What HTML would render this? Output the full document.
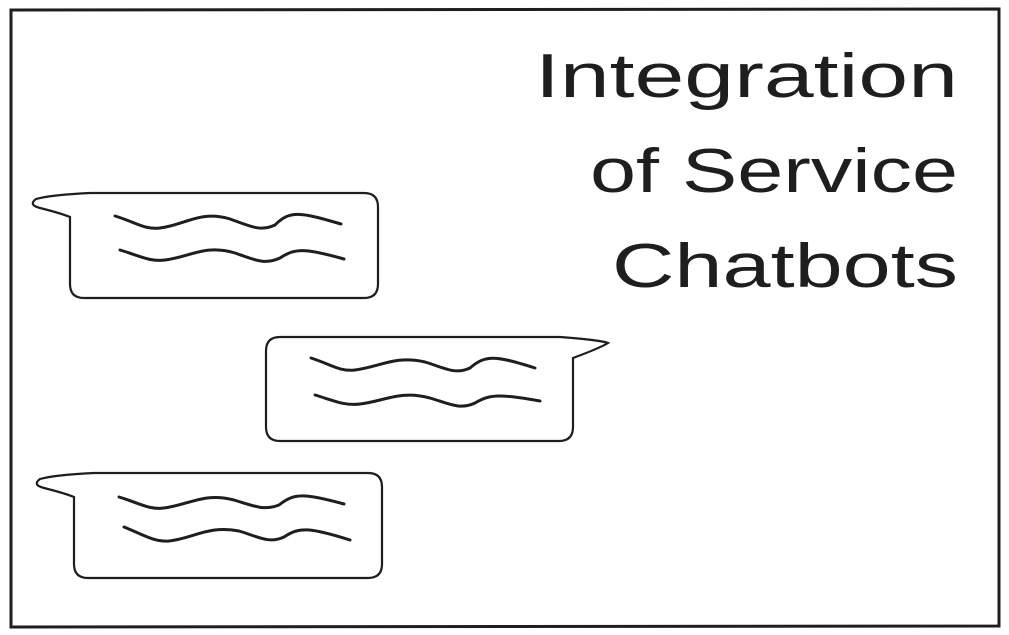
<!DOCTYPE html>
<html><head><style>
html,body{margin:0;padding:0;background:#fff;width:1009px;height:635px;overflow:hidden}
</style></head><body>
<svg width="1009" height="635" viewBox="0 0 1009 635" xmlns="http://www.w3.org/2000/svg">
<rect x="0" y="0" width="1009" height="635" fill="#fff"/>
<path d="M11 10 L999 9 L999 626 L11 627 Z" fill="none" stroke="#1e1e1e" stroke-width="3"/>
<g font-family="'Liberation Sans', sans-serif" font-size="62" fill="#1e1e1e">
<text x="535" y="97" textLength="423" lengthAdjust="spacingAndGlyphs">Integration</text>
<text x="590" y="192" textLength="368" lengthAdjust="spacingAndGlyphs">of Service</text>
<text x="612" y="287" textLength="346" lengthAdjust="spacingAndGlyphs">Chatbots</text>
</g>
<g fill="none" stroke="#1e1e1e" stroke-width="2.2" stroke-linecap="round">
<path d="M70 217 L70 284 Q70 298 84 298 L364 298 Q378 298 378 284 L378 207 Q378 193 364 193 L90 193 Q50 195 36 199 Q28 205 40 208 Q60 213 70 217 Z"/>
<path d="M115 216 C135 222 145 230 160 228 C185 225 200 210 230 219 C250 226 260 232 275 225 C290 210 300 212 341 224" stroke-width="3"/>
<path d="M120 250 C140 256 150 262 165 260 C190 257 205 244 235 253 C255 260 265 265 280 258 C295 248 305 248 344 259" stroke-width="3"/>
<path d="M573 358 L573 427 Q573 441 559 441 L280 441 Q266 441 266 427 L266 351 Q266 337 280 337 L560 337 Q600 340 608 343 Q600 348 573 358 Z"/>
<path d="M311 358 C330 364 340 372 355 370 C380 367 395 355 425 362 C445 368 455 375 470 368 C485 355 495 355 535 368" stroke-width="3"/>
<path d="M315 395 C335 401 345 406 360 404 C385 401 400 390 430 398 C450 404 460 410 475 403 C490 394 500 394 540 401" stroke-width="3"/>
<path d="M74 497 L74 564 Q74 578 88 578 L368 578 Q382 578 382 564 L382 487 Q382 473 368 473 L94 473 Q54 475 40 479 Q32 485 44 488 Q64 493 74 497 Z"/>
<path d="M119 497 C139 503 149 510 164 508 C189 505 204 492 234 500 C254 506 264 511 279 505 C294 493 304 493 344 504" stroke-width="3"/>
<path d="M124 527 C144 535 154 542 169 541 C194 538 209 525 239 531 C259 537 269 544 284 537 C299 527 309 527 350 540" stroke-width="3"/>
</g>
</svg>
</body></html>
